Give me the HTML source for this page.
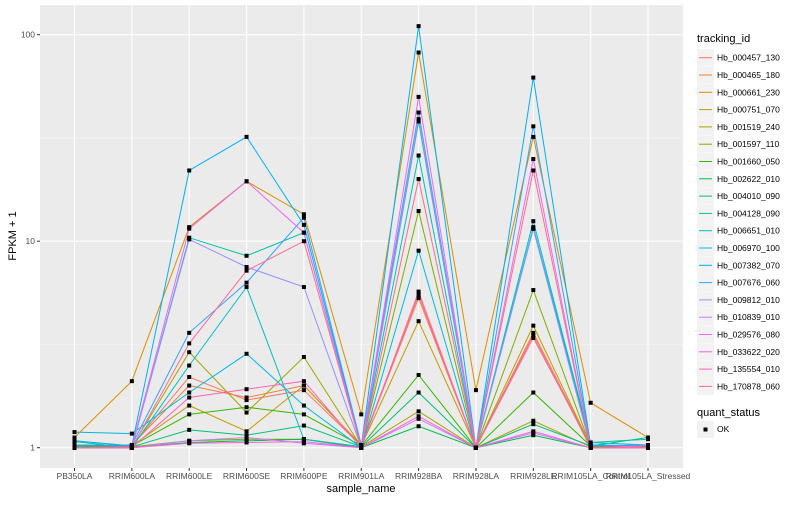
<!DOCTYPE html>
<html><head><meta charset="utf-8"><style>
body{margin:0;background:#fff;font-family:"Liberation Sans",sans-serif;}
svg text{font-family:"Liberation Sans",sans-serif;}
</style></head><body>
<svg id="chart" width="800" height="500" xmlns="http://www.w3.org/2000/svg">
<rect x="0" y="0" width="800" height="500" fill="#fff"/>
<rect id="panel" x="40" y="5" width="643" height="463" fill="#ebebeb"/>
<g id="grid"></g><g id="lines"></g><g id="pts"></g><g id="axes"></g><g id="legend"></g>
</svg>
<script>
const categories=["PB350LA","RRIM600LA","RRIM600LE","RRIM600SE","RRIM600PE","RRIM901LA","RRIM928BA","RRIM928LA","RRIM928LE","RRIM105LA_Control","RRIM105LA_Stressed"];
const seriesNames=["Hb_000457_130","Hb_000465_180","Hb_000661_230","Hb_000751_070","Hb_001519_240","Hb_001597_110","Hb_001660_050","Hb_002622_010","Hb_004010_090","Hb_004128_090","Hb_006651_010","Hb_006970_100","Hb_007382_070","Hb_007676_060","Hb_009812_010","Hb_010839_010","Hb_029576_080","Hb_033622_020","Hb_135554_010","Hb_170878_060"];
const seriesColors=["#F8766D","#EA8331","#D89000","#C09B00","#A3A500","#7CAE00","#39B600","#00BB4E","#00BF7D","#00C1A3","#00BFC4","#00BAE0","#00B0F6","#35A2FF","#9590FF","#C77CFF","#E76BF3","#FA62DB","#FF62BC","#FF6C91"];
const s00=[1,1.02,2.2,1.7,1.9,1.02,5.3,1,3.4,1.02,1.01];
const s01=[1.02,1.03,2.0,1.75,2.0,1.03,5.5,1,3.6,1.02,1.02];
const s02=[1.12,2.1,11.7,19.5,13.5,1.45,82,1.9,32,1.65,1.12];
const s03=[1.03,1.02,1.6,1.2,2.0,1.02,4.1,1,3.9,1.02,1.03];
const s04=[1.02,1.01,2.9,1.48,2.75,1.01,1.5,1,1.35,1.01,1.03];
const s05=[1.01,1.01,1.08,1.1,1.1,1.01,14,1,5.8,1.01,1.02];
const s06=[1.02,1.02,1.45,1.57,1.45,1.02,2.25,1,1.85,1.02,1.01];
const s07=[1.0,1.0,1.06,1.08,1.1,1.0,1.27,1,1.15,1.0,1.0];
const s08=[1.01,1.01,1.22,1.15,1.28,1.01,1.85,1,1.3,1.02,1.12];
const s09=[1.07,1.0,10.4,8.5,11,1.0,38,1,11.7,1.06,1.1];
const s10=[1.01,1.0,2.5,6.0,1.1,1.01,26,1,12.5,1.06,1.03];
const s11=[1.19,1.17,1.85,2.85,1.6,1.0,9,1,11.5,1.03,1.02];
const s12=[1.08,1.02,22,32,12,1.02,110,1,62,1.03,1.02];
const s13=[1.03,1.03,3.6,6.3,13,1.03,42,1,36,1.02,1.03];
const s14=[1.0,1.0,10.2,7.5,6.0,1.0,39,1,11.5,1.0,1.0];
const s15=[1.0,1.0,1.08,1.12,1.05,1.0,1.38,1,1.18,1.0,1.0];
const s16=[1.0,1.01,11.5,19.5,11,1.0,50,1,25,1.0,1.02];
const s17=[1.0,1.0,1.05,1.06,1.07,1.0,1.42,1,1.2,1.0,1.02];
const s18=[1.0,1.0,1.75,1.92,2.1,1.0,5.7,1,3.5,1.0,1.0];
const s19=[1.0,1.0,3.2,7.2,10,1.0,20,1,22,1.0,1.0];
const seriesValues=[s00,s01,s02,s03,s04,s05,s06,s07,s08,s09,s10,s11,s12,s13,s14,s15,s16,s17,s18,s19];
const yTicks=[1,10,100];
const yTickLabels=["1","10","100"];

const NS="http://www.w3.org/2000/svg";
function mk(t,a,p){const e=document.createElementNS(NS,t);for(const k in a)e.setAttribute(k,a[k]);p.appendChild(e);return e;}
const X0=74.5,DX=57.35,Y1=447.7,DEC=206.5;
function xs(i){return X0+i*DX;}
function ys(v){return Y1-Math.log10(v)*DEC;}
const grid=document.getElementById('grid');
[Math.sqrt(10),Math.sqrt(1000)].forEach(v=>{const l=mk('line',{x1:40,x2:683,y1:ys(v),y2:ys(v),stroke:'#f5f5f5','stroke-width':0.6},grid);

});
yTicks.forEach(v=>{const l=mk('line',{x1:40,x2:683,y1:ys(v),y2:ys(v),stroke:'#fff','stroke-width':1.1},grid);

});
categories.forEach((c,i)=>{const l=mk('line',{x1:xs(i),x2:xs(i),y1:5,y2:468,stroke:'#fff','stroke-width':1.1},grid);

});
const lines=document.getElementById('lines'),pts=document.getElementById('pts');
seriesValues.forEach((vals,s)=>{
 const d=vals.map((v,i)=>(i?'L':'M')+xs(i).toFixed(1)+' '+ys(v).toFixed(1)).join(' ');
 const p=mk('path',{d:d,fill:'none',stroke:seriesColors[s],'stroke-width':1},lines);
 
 
});
seriesValues.forEach((vals,s)=>{vals.forEach((v,i)=>{
 const r=mk('rect',{x:xs(i)-2,y:ys(v)-2,width:4,height:4,fill:'#000'},pts);
 
 
});});
const ax=document.getElementById('axes');
yTicks.forEach((v,i)=>{
 mk('line',{x1:37,x2:40,y1:ys(v),y2:ys(v),stroke:'#333','stroke-width':1},ax);
 const t=mk('text',{x:35,y:ys(v)+3,'text-anchor':'end','font-size':8.5,fill:'#4d4d4d'},ax);t.textContent=yTickLabels[i];
 
 
});
categories.forEach((c,i)=>{
 mk('line',{x1:xs(i),x2:xs(i),y1:468,y2:471,stroke:'#333','stroke-width':1},ax);
 const t=mk('text',{x:xs(i),y:479,'text-anchor':'middle','font-size':8.5,fill:'#4d4d4d'},ax);t.textContent=c;
 
 
});
let t=mk('text',{x:361,y:492,'text-anchor':'middle','font-size':11,fill:'#000'},ax);t.textContent='sample_name';


t=mk('text',{x:16,y:236,'text-anchor':'middle','font-size':11,fill:'#000',transform:'rotate(-90 16 236)'},ax);t.textContent='FPKM + 1';


const lg=document.getElementById('legend');
t=mk('text',{x:697,y:42,'font-size':11,fill:'#000'},lg);t.textContent='tracking_id';


seriesNames.forEach((n,s)=>{
 const y=57.7+s*17.3;
 const g=mk('g',{},lg);
 
 
 mk('rect',{x:697,y:y-8.5,width:17,height:17,fill:'#f2f2f2'},g);
 mk('line',{x1:699,x2:712,y1:y,y2:y,stroke:seriesColors[s],'stroke-width':1},g);
 const tt=mk('text',{x:717,y:y+3,'font-size':8.5,fill:'#000'},g);tt.textContent=n;
});
t=mk('text',{x:697,y:416,'font-size':11,fill:'#000'},lg);t.textContent='quant_status';


const g2=mk('g',{},lg);


mk('rect',{x:697,y:421,width:17,height:17,fill:'#f2f2f2'},g2);
mk('rect',{x:703.5,y:427.5,width:4,height:4,fill:'#000'},g2);
const ok=mk('text',{x:717,y:432,'font-size':8.5,fill:'#000'},g2);ok.textContent='OK';
</script>
</body></html>
